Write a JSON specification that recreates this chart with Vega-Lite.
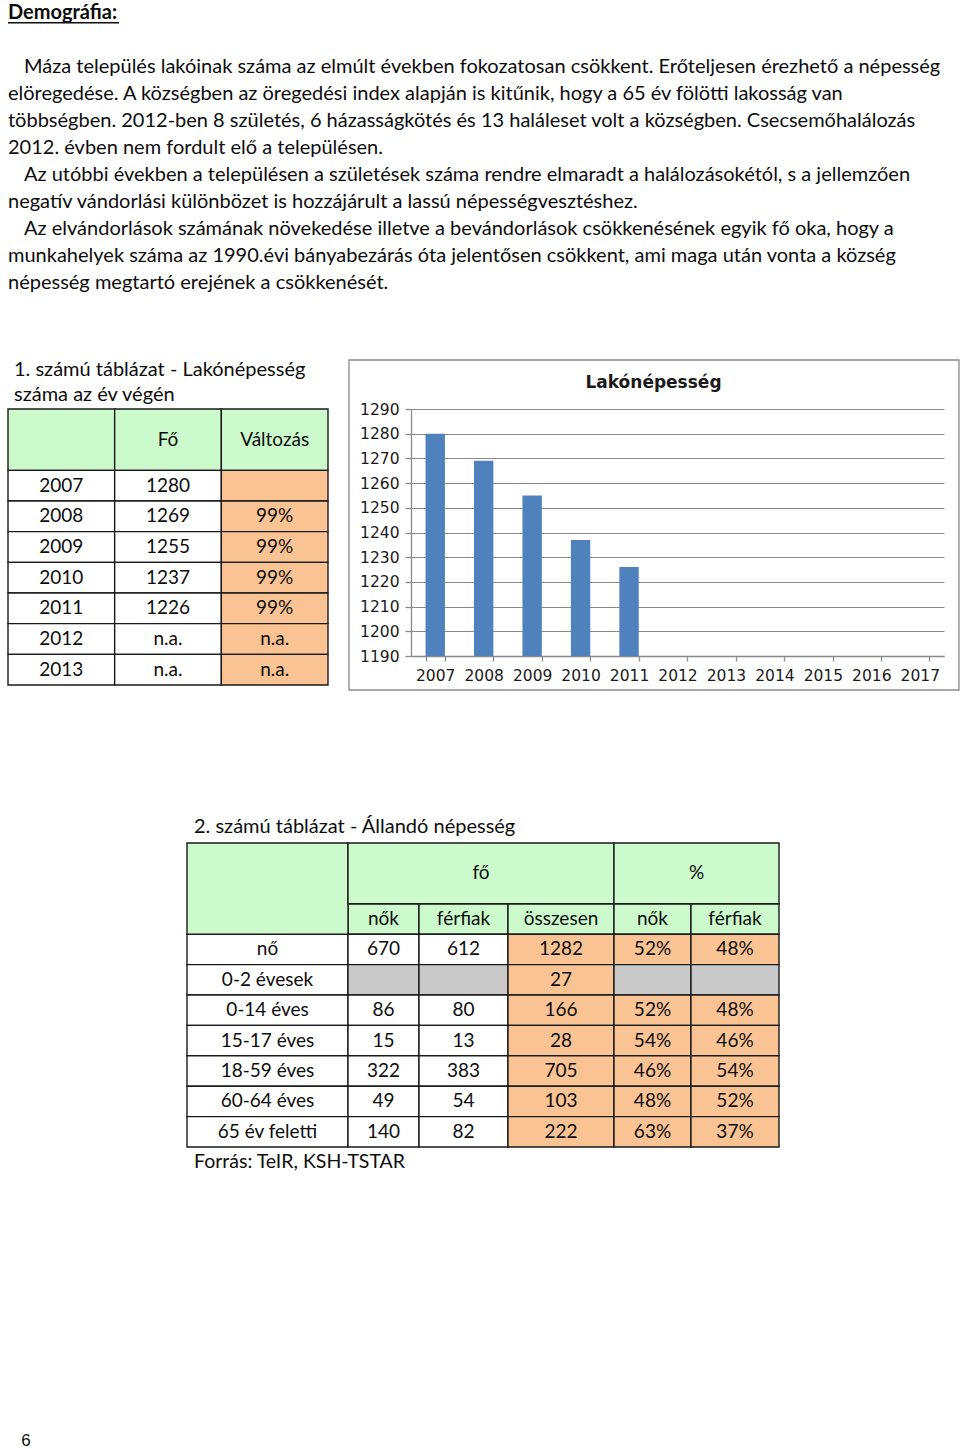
{
  "$schema": "https://vega.github.io/schema/vega-lite/v6.json",
  "padding": {"left": 7, "top": 0, "right": 0, "bottom": 0},
  "bounds": "flush",
  "columns": 2,
  "align": "each",
  "spacing": {"row": 0, "column": 83},
  "config": {"view": {"stroke": null}, "font": "Lato"},
  "concat": [
    {
      "width": 320,
      "height": 409,
      "layer": [
        {
          "data": {"values": [{"line": 0, "text": "Demográfia:"}]},
          "layer": [
            {
              "mark": {"type": "text", "align": "left", "baseline": "middle", "font": "Lato", "fontSize": 20, "fontWeight": "bold", "color": "#0d0d0d"},
              "encoding": {
                "x": {"datum": 0, "type": "quantitative", "scale": {"domain": [0, 1], "nice": false, "zero": false}, "axis": null},
                "y": {"field": "line", "type": "quantitative", "scale": {"domain": [-0.47, 14.678], "reverse": true, "nice": false, "zero": false}, "axis": null},
                "text": {"field": "text"}
              }
            },
            {
              "mark": {"type": "rule", "color": "#0d0d0d", "strokeWidth": 1.6},
              "encoding": {
                "x": {"datum": 0, "type": "quantitative", "scale": {"domain": [0, 1], "nice": false, "zero": false}, "axis": null},
                "x2": {"datum": 0.347},
                "y": {"datum": 0.37, "type": "quantitative", "scale": {"domain": [-0.47, 14.678], "reverse": true, "nice": false, "zero": false}, "axis": null}
              }
            }
          ]
        },
        {
          "data": {"values": [
            {"line": 2, "text": "Máza település lakóinak száma az elmúlt években fokozatosan csökkent. Erőteljesen érezhető a népesség"},
            {"line": 6, "text": "Az utóbbi években a településen a születések száma rendre elmaradt a halálozásokétól, s a jellemzően"},
            {"line": 8, "text": "Az elvándorlások számának növekedése illetve a bevándorlások csökkenésének egyik fő oka, hogy a"}
          ]},
          "mark": {"type": "text", "align": "left", "baseline": "middle", "font": "Lato", "fontSize": 20, "color": "#0d0d0d", "dx": 16},
          "encoding": {
            "x": {"datum": 0, "type": "quantitative", "scale": {"domain": [0, 1], "nice": false, "zero": false}, "axis": null},
            "y": {"field": "line", "type": "quantitative", "scale": {"domain": [-0.47, 14.678], "reverse": true, "nice": false, "zero": false}, "axis": null},
            "text": {"field": "text"}
          }
        },
        {
          "data": {"values": [
            {"line": 3, "text": "elöregedése. A községben az öregedési index alapján is kitűnik, hogy a 65 év fölötti lakosság van"},
            {"line": 4, "text": "többségben. 2012-ben 8 születés, 6 házasságkötés és 13 haláleset volt a községben. Csecsemőhalálozás"},
            {"line": 5, "text": "2012. évben nem fordult elő a településen."},
            {"line": 7, "text": "negatív vándorlási különbözet is hozzájárult a lassú népességvesztéshez."},
            {"line": 9, "text": "munkahelyek száma az 1990.évi bányabezárás óta jelentősen csökkent, ami maga után vonta a község"},
            {"line": 10, "text": "népesség megtartó erejének a csökkenését."}
          ]},
          "mark": {"type": "text", "align": "left", "baseline": "middle", "font": "Lato", "fontSize": 20, "color": "#0d0d0d"},
          "encoding": {
            "x": {"datum": 0, "type": "quantitative", "scale": {"domain": [0, 1], "nice": false, "zero": false}, "axis": null},
            "y": {"field": "line", "type": "quantitative", "scale": {"domain": [-0.47, 14.678], "reverse": true, "nice": false, "zero": false}, "axis": null},
            "text": {"field": "text"}
          }
        }
      ]
    },
    {
      "width": 1,
      "height": 1,
      "data": {"values": []},
      "mark": {"type": "point"},
      "encoding": {}
    },
    {
      "width": 320,
      "height": 434,
      "title": {"text": ["1. számú táblázat - Lakónépesség", "száma az év végén"], "anchor": "start", "frame": "group", "orient": "top", "font": "Lato", "fontSize": 20, "fontWeight": "normal", "color": "#0d0d0d", "lineHeight": 25, "baseline": "bottom", "offset": -17, "dx": 6},
      "data": {"values": [
        {"r0": 0, "r1": 2, "c0": 0, "c1": 1, "text": "", "kind": "fejléc"},
        {"r0": 0, "r1": 2, "c0": 1, "c1": 2, "text": "Fő", "kind": "fejléc"},
        {"r0": 0, "r1": 2, "c0": 2, "c1": 3, "text": "Változás", "kind": "fejléc"},
        {"r0": 2, "r1": 3, "c0": 0, "c1": 1, "text": "2007", "kind": "adat"},
        {"r0": 2, "r1": 3, "c0": 1, "c1": 2, "text": "1280", "kind": "adat"},
        {"r0": 2, "r1": 3, "c0": 2, "c1": 3, "text": "", "kind": "számított"},
        {"r0": 3, "r1": 4, "c0": 0, "c1": 1, "text": "2008", "kind": "adat"},
        {"r0": 3, "r1": 4, "c0": 1, "c1": 2, "text": "1269", "kind": "adat"},
        {"r0": 3, "r1": 4, "c0": 2, "c1": 3, "text": "99%", "kind": "számított"},
        {"r0": 4, "r1": 5, "c0": 0, "c1": 1, "text": "2009", "kind": "adat"},
        {"r0": 4, "r1": 5, "c0": 1, "c1": 2, "text": "1255", "kind": "adat"},
        {"r0": 4, "r1": 5, "c0": 2, "c1": 3, "text": "99%", "kind": "számított"},
        {"r0": 5, "r1": 6, "c0": 0, "c1": 1, "text": "2010", "kind": "adat"},
        {"r0": 5, "r1": 6, "c0": 1, "c1": 2, "text": "1237", "kind": "adat"},
        {"r0": 5, "r1": 6, "c0": 2, "c1": 3, "text": "99%", "kind": "számított"},
        {"r0": 6, "r1": 7, "c0": 0, "c1": 1, "text": "2011", "kind": "adat"},
        {"r0": 6, "r1": 7, "c0": 1, "c1": 2, "text": "1226", "kind": "adat"},
        {"r0": 6, "r1": 7, "c0": 2, "c1": 3, "text": "99%", "kind": "számított"},
        {"r0": 7, "r1": 8, "c0": 0, "c1": 1, "text": "2012", "kind": "adat"},
        {"r0": 7, "r1": 8, "c0": 1, "c1": 2, "text": "n.a.", "kind": "adat"},
        {"r0": 7, "r1": 8, "c0": 2, "c1": 3, "text": "n.a.", "kind": "számított"},
        {"r0": 8, "r1": 9, "c0": 0, "c1": 1, "text": "2013", "kind": "adat"},
        {"r0": 8, "r1": 9, "c0": 1, "c1": 2, "text": "n.a.", "kind": "adat"},
        {"r0": 8, "r1": 9, "c0": 2, "c1": 3, "text": "n.a.", "kind": "számított"}
      ]},
      "transform": [
        {"calculate": "(datum.c0 + datum.c1) / 2", "as": "cx"},
        {"calculate": "(datum.r0 + datum.r1) / 2", "as": "cy"}
      ],
      "layer": [
        {
          "mark": {"type": "rect", "stroke": "#1a1a1a", "strokeWidth": 1.4},
          "encoding": {
            "x": {"field": "c0", "type": "quantitative", "scale": {"domain": [0, 3], "nice": false, "zero": false}, "axis": null},
            "x2": {"field": "c1"},
            "y": {"field": "r0", "type": "quantitative", "scale": {"domain": [0, 14.152], "reverse": true, "nice": false, "zero": false}, "axis": null},
            "y2": {"field": "r1"},
            "fill": {"field": "kind", "type": "nominal", "scale": {"domain": ["fejléc", "adat", "számított", "üres"], "range": ["#CCFACC", "#FFFFFF", "#FAC393", "#C9C9C9"]}, "legend": null}
          }
        },
        {
          "mark": {"type": "text", "font": "Lato", "fontSize": 19, "color": "#0d0d0d", "baseline": "middle"},
          "encoding": {
            "x": {"field": "cx", "type": "quantitative", "scale": {"domain": [0, 3], "nice": false, "zero": false}, "axis": null},
            "y": {"field": "cy", "type": "quantitative", "scale": {"domain": [0, 14.152], "reverse": true, "nice": false, "zero": false}, "axis": null},
            "text": {"field": "text"}
          }
        }
      ]
    },
    {
      "width": 533,
      "height": 247,
      "title": {"text": "Lakónépesség", "font": "DejaVu Sans", "fontSize": 17, "fontWeight": "bold", "color": "#1a1a1a", "anchor": "middle", "frame": "group", "dx": -24, "baseline": "middle", "offset": -41},
      "layer": [
        {
          "data": {"values": [
            {"ev": "2007", "fo": 1280},
            {"ev": "2008", "fo": 1269},
            {"ev": "2009", "fo": 1255},
            {"ev": "2010", "fo": 1237},
            {"ev": "2011", "fo": 1226}
          ]},
          "mark": {"type": "bar", "color": "#4F81BD"},
          "encoding": {
            "x": {
              "field": "ev", "type": "ordinal",
              "scale": {"domain": ["2007", "2008", "2009", "2010", "2011", "2012", "2013", "2014", "2015", "2016", "2017"], "paddingInner": 0.6, "paddingOuter": 0.3},
              "axis": {"title": null, "labelAngle": 0, "labelOverlap": false, "tickBand": "extent", "tickSize": 5, "tickColor": "#8a8a8a", "tickWidth": 1.3, "domainColor": "#8a8a8a", "domainWidth": 1.3, "labelFont": "DejaVu Sans", "labelFontSize": 15.5, "labelColor": "#1a1a1a", "labelPadding": 7, "grid": false}
            },
            "y": {
              "field": "fo", "type": "quantitative",
              "scale": {"domain": [1190, 1290], "nice": false, "zero": false},
              "axis": {"title": null, "format": "d", "labelOverlap": false, "values": [1190, 1200, 1210, 1220, 1230, 1240, 1250, 1260, 1270, 1280, 1290], "grid": true, "gridColor": "#8a8a8a", "gridWidth": 1.2, "domainColor": "#8a8a8a", "domainWidth": 1.3, "tickColor": "#8a8a8a", "tickWidth": 1.3, "tickSize": 6, "labelFont": "DejaVu Sans", "labelFontSize": 15.5, "labelColor": "#1a1a1a", "labelPadding": 6}
            },
            "y2": {"datum": 1190}
          }
        },
        {
          "data": {"values": [{}]},
          "mark": {"type": "rect", "fill": "transparent", "stroke": "#8a8a8a", "strokeWidth": 1.3},
          "encoding": {
            "x": {"datum": -0.1163, "type": "quantitative", "scale": {"domain": [0, 1], "nice": false, "zero": false}, "axis": null},
            "x2": {"datum": 1.0281},
            "y": {
              "datum": 1309.84, "type": "quantitative",
              "scale": {"domain": [1190, 1290], "nice": false, "zero": false},
              "axis": {"title": null, "format": "d", "labelOverlap": false, "values": [1190, 1200, 1210, 1220, 1230, 1240, 1250, 1260, 1270, 1280, 1290], "grid": true, "gridColor": "#8a8a8a", "gridWidth": 1.2, "domainColor": "#8a8a8a", "domainWidth": 1.3, "tickColor": "#8a8a8a", "tickWidth": 1.3, "tickSize": 6, "labelFont": "DejaVu Sans", "labelFontSize": 15.5, "labelColor": "#1a1a1a", "labelPadding": 6}
            },
            "y2": {"datum": 1176.23}
          }
        }
      ],
      "resolve": {"scale": {"x": "independent"}, "axis": {"x": "independent"}}
    },
    {
      "width": 320,
      "height": 590,
      "title": {"text": "2. számú táblázat - Állandó népesség", "anchor": "start", "frame": "group", "dx": 186, "font": "Lato", "fontSize": 20, "fontWeight": "normal", "color": "#0d0d0d", "baseline": "bottom", "offset": -15},
      "layer": [
        {
          "data": {"values": [
            {"r0": 2, "r1": 3, "c0": 1, "c1": 2, "text": "nők", "kind": "fejléc"},
            {"r0": 2, "r1": 3, "c0": 2, "c1": 3, "text": "férfiak", "kind": "fejléc"},
            {"r0": 2, "r1": 3, "c0": 3, "c1": 4, "text": "összesen", "kind": "fejléc"},
            {"r0": 2, "r1": 3, "c0": 4, "c1": 5, "text": "nők", "kind": "fejléc"},
            {"r0": 2, "r1": 3, "c0": 5, "c1": 6, "text": "férfiak", "kind": "fejléc"},
            {"r0": 3, "r1": 4, "c0": 0, "c1": 1, "text": "nő", "kind": "adat"},
            {"r0": 3, "r1": 4, "c0": 1, "c1": 2, "text": "670", "kind": "adat"},
            {"r0": 3, "r1": 4, "c0": 2, "c1": 3, "text": "612", "kind": "adat"},
            {"r0": 3, "r1": 4, "c0": 3, "c1": 4, "text": "1282", "kind": "számított"},
            {"r0": 3, "r1": 4, "c0": 4, "c1": 5, "text": "52%", "kind": "számított"},
            {"r0": 3, "r1": 4, "c0": 5, "c1": 6, "text": "48%", "kind": "számított"},
            {"r0": 4, "r1": 5, "c0": 0, "c1": 1, "text": "0-2 évesek", "kind": "adat"},
            {"r0": 4, "r1": 5, "c0": 1, "c1": 2, "text": "", "kind": "üres"},
            {"r0": 4, "r1": 5, "c0": 2, "c1": 3, "text": "", "kind": "üres"},
            {"r0": 4, "r1": 5, "c0": 3, "c1": 4, "text": "27", "kind": "számított"},
            {"r0": 4, "r1": 5, "c0": 4, "c1": 5, "text": "", "kind": "üres"},
            {"r0": 4, "r1": 5, "c0": 5, "c1": 6, "text": "", "kind": "üres"},
            {"r0": 5, "r1": 6, "c0": 0, "c1": 1, "text": "0-14 éves", "kind": "adat"},
            {"r0": 5, "r1": 6, "c0": 1, "c1": 2, "text": "86", "kind": "adat"},
            {"r0": 5, "r1": 6, "c0": 2, "c1": 3, "text": "80", "kind": "adat"},
            {"r0": 5, "r1": 6, "c0": 3, "c1": 4, "text": "166", "kind": "számított"},
            {"r0": 5, "r1": 6, "c0": 4, "c1": 5, "text": "52%", "kind": "számított"},
            {"r0": 5, "r1": 6, "c0": 5, "c1": 6, "text": "48%", "kind": "számított"},
            {"r0": 6, "r1": 7, "c0": 0, "c1": 1, "text": "15-17 éves", "kind": "adat"},
            {"r0": 6, "r1": 7, "c0": 1, "c1": 2, "text": "15", "kind": "adat"},
            {"r0": 6, "r1": 7, "c0": 2, "c1": 3, "text": "13", "kind": "adat"},
            {"r0": 6, "r1": 7, "c0": 3, "c1": 4, "text": "28", "kind": "számított"},
            {"r0": 6, "r1": 7, "c0": 4, "c1": 5, "text": "54%", "kind": "számított"},
            {"r0": 6, "r1": 7, "c0": 5, "c1": 6, "text": "46%", "kind": "számított"},
            {"r0": 7, "r1": 8, "c0": 0, "c1": 1, "text": "18-59 éves", "kind": "adat"},
            {"r0": 7, "r1": 8, "c0": 1, "c1": 2, "text": "322", "kind": "adat"},
            {"r0": 7, "r1": 8, "c0": 2, "c1": 3, "text": "383", "kind": "adat"},
            {"r0": 7, "r1": 8, "c0": 3, "c1": 4, "text": "705", "kind": "számított"},
            {"r0": 7, "r1": 8, "c0": 4, "c1": 5, "text": "46%", "kind": "számított"},
            {"r0": 7, "r1": 8, "c0": 5, "c1": 6, "text": "54%", "kind": "számított"},
            {"r0": 8, "r1": 9, "c0": 0, "c1": 1, "text": "60-64 éves", "kind": "adat"},
            {"r0": 8, "r1": 9, "c0": 1, "c1": 2, "text": "49", "kind": "adat"},
            {"r0": 8, "r1": 9, "c0": 2, "c1": 3, "text": "54", "kind": "adat"},
            {"r0": 8, "r1": 9, "c0": 3, "c1": 4, "text": "103", "kind": "számított"},
            {"r0": 8, "r1": 9, "c0": 4, "c1": 5, "text": "48%", "kind": "számított"},
            {"r0": 8, "r1": 9, "c0": 5, "c1": 6, "text": "52%", "kind": "számított"},
            {"r0": 9, "r1": 10, "c0": 0, "c1": 1, "text": "65 év feletti", "kind": "adat"},
            {"r0": 9, "r1": 10, "c0": 1, "c1": 2, "text": "140", "kind": "adat"},
            {"r0": 9, "r1": 10, "c0": 2, "c1": 3, "text": "82", "kind": "adat"},
            {"r0": 9, "r1": 10, "c0": 3, "c1": 4, "text": "222", "kind": "számított"},
            {"r0": 9, "r1": 10, "c0": 4, "c1": 5, "text": "63%", "kind": "számított"},
            {"r0": 9, "r1": 10, "c0": 5, "c1": 6, "text": "37%", "kind": "számított"}
          ]},
          "transform": [
            {"calculate": "(datum.c0 + datum.c1) / 2", "as": "cx"},
            {"calculate": "(datum.r0 + datum.r1) / 2", "as": "cy"}
          ],
          "layer": [
            {
              "mark": {"type": "rect", "stroke": "#1a1a1a", "strokeWidth": 1.4},
              "encoding": {
                "x": {"field": "c0", "type": "quantitative", "scale": {"domain": [0, 1, 2, 3, 4, 5, 6], "range": [179, 340, 411, 500, 606, 683, 771], "nice": false, "zero": false}, "axis": null},
                "x2": {"field": "c1"},
                "y": {"field": "r0", "type": "quantitative", "scale": {"domain": [0, 19.408], "reverse": true, "nice": false, "zero": false}, "axis": null},
                "y2": {"field": "r1"},
                "fill": {"field": "kind", "type": "nominal", "scale": {"domain": ["fejléc", "adat", "számított", "üres"], "range": ["#CCFACC", "#FFFFFF", "#FAC393", "#C9C9C9"]}, "legend": null}
              }
            },
            {
              "mark": {"type": "text", "font": "Lato", "fontSize": 19, "color": "#0d0d0d", "baseline": "middle"},
              "encoding": {
                "x": {"field": "cx", "type": "quantitative", "scale": {"domain": [0, 1, 2, 3, 4, 5, 6], "range": [179, 340, 411, 500, 606, 683, 771], "nice": false, "zero": false}, "axis": null},
                "y": {"field": "cy", "type": "quantitative", "scale": {"domain": [0, 19.408], "reverse": true, "nice": false, "zero": false}, "axis": null},
                "text": {"field": "text"}
              }
            }
          ]
        },
        {
          "data": {"values": [
            {"r0": 0, "r1": 3, "c0": 0, "c1": 1, "text": "", "kind": "fejléc"},
            {"r0": 0, "r1": 2, "c0": 1, "c1": 4, "text": "fő", "kind": "fejléc"},
            {"r0": 0, "r1": 2, "c0": 4, "c1": 6, "text": "%", "kind": "fejléc"}
          ]},
          "transform": [
            {"calculate": "(datum.c0 + datum.c1) / 2", "as": "cx"},
            {"calculate": "(datum.r0 + datum.r1) / 2", "as": "cy"}
          ],
          "layer": [
            {
              "mark": {"type": "rect", "stroke": "#1a1a1a", "strokeWidth": 1.4},
              "encoding": {
                "x": {"field": "c0", "type": "quantitative", "scale": {"domain": [0, 1, 4, 6], "range": [179, 340, 606, 771], "nice": false, "zero": false}, "axis": null},
                "x2": {"field": "c1"},
                "y": {"field": "r0", "type": "quantitative", "scale": {"domain": [0, 19.408], "reverse": true, "nice": false, "zero": false}, "axis": null},
                "y2": {"field": "r1"},
                "fill": {"field": "kind", "type": "nominal", "scale": {"domain": ["fejléc", "adat", "számított", "üres"], "range": ["#CCFACC", "#FFFFFF", "#FAC393", "#C9C9C9"]}, "legend": null}
              }
            },
            {
              "mark": {"type": "text", "font": "Lato", "fontSize": 19, "color": "#0d0d0d", "baseline": "middle"},
              "encoding": {
                "x": {"field": "cx", "type": "quantitative", "scale": {"domain": [0, 1, 4, 6], "range": [179, 340, 606, 771], "nice": false, "zero": false}, "axis": null},
                "y": {"field": "cy", "type": "quantitative", "scale": {"domain": [0, 19.408], "reverse": true, "nice": false, "zero": false}, "axis": null},
                "text": {"field": "text"}
              }
            }
          ]
        },
        {
          "data": {"values": [{"forras": "Forrás: TeIR, KSH-TSTAR"}]},
          "mark": {"type": "text", "font": "Lato", "fontSize": 19.5, "color": "#0d0d0d", "align": "left", "baseline": "middle", "dx": 7},
          "encoding": {
            "x": {"datum": 0, "type": "quantitative", "scale": {"domain": [0, 6], "range": [179, 771], "nice": false, "zero": false}, "axis": null},
            "y": {"datum": 10.5, "type": "quantitative", "scale": {"domain": [0, 19.408], "reverse": true, "nice": false, "zero": false}, "axis": null},
            "text": {"field": "forras"}
          }
        }
      ],
      "resolve": {"scale": {"x": "independent"}}
    },
    {
      "width": 1,
      "height": 1,
      "data": {"values": []},
      "mark": {"type": "point"},
      "encoding": {}
    },
    {
      "width": 36,
      "height": 16,
      "data": {"values": [{"oldal": "6"}]},
      "mark": {"type": "text", "font": "Liberation Sans", "fontSize": 17, "color": "#0d0d0d"},
      "encoding": {"text": {"field": "oldal"}}
    },
    {
      "width": 1,
      "height": 1,
      "data": {"values": []},
      "mark": {"type": "point"},
      "encoding": {}
    }
  ]
}
